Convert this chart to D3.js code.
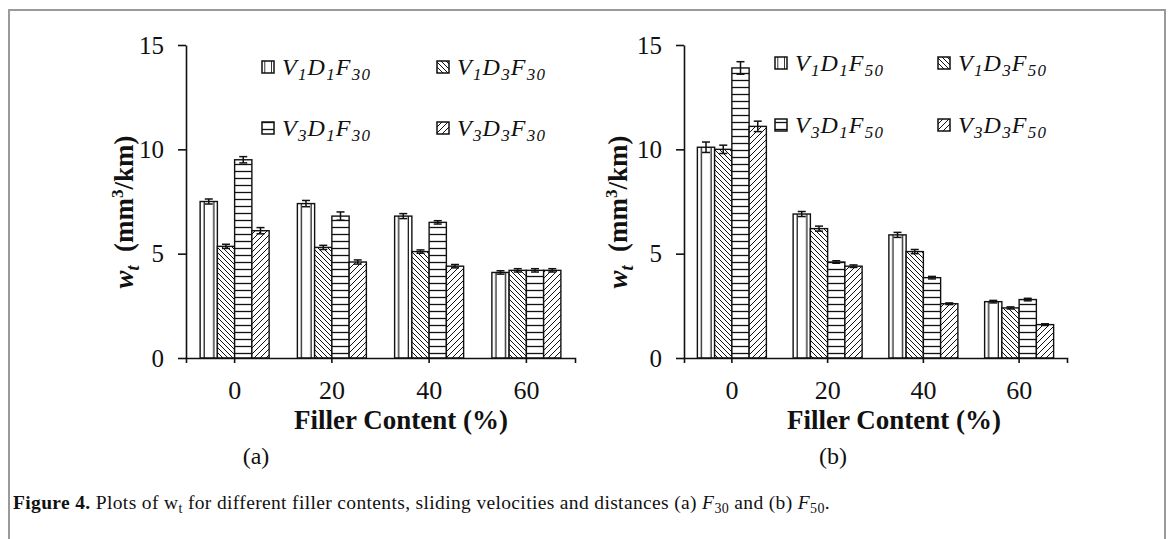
<!DOCTYPE html>
<html>
<head>
<meta charset="utf-8">
<script src="https://cdn.jsdelivr.net/npm/d3@7"></script>
<style>
  body { margin: 0; background: #fff; }
  text { font-family: "Liberation Serif", "Times New Roman", serif; fill: #111; }
</style>
</head>
<body>
<div id="chart"></div>
<script>
// categories
const fillerContent = ["0", "20", "40", "60"];
const yTicks = [0, 5, 10, 15];

// panel (a): F30
const a_V1D1 = [7.5, 7.4, 6.8, 4.1];
const a_V1D3 = [5.35, 5.3, 5.1, 4.2];
const a_V3D1 = [9.5, 6.8, 6.5, 4.2];
const a_V3D3 = [6.1, 4.6, 4.4, 4.2];
const a_err_V1D1 = [0.12, 0.15, 0.12, 0.08];
const a_err_V1D3 = [0.1, 0.1, 0.08, 0.08];
const a_err_V3D1 = [0.15, 0.2, 0.08, 0.08];
const a_err_V3D3 = [0.15, 0.1, 0.08, 0.08];

// panel (b): F50
const b_V1D1 = [10.1, 6.9, 5.9, 2.7];
const b_V1D3 = [10.0, 6.2, 5.1, 2.4];
const b_V3D1 = [13.9, 4.6, 3.85, 2.8];
const b_V3D3 = [11.1, 4.4, 2.6, 1.6];
const b_err_V1D1 = [0.25, 0.12, 0.12, 0.06];
const b_err_V1D3 = [0.2, 0.12, 0.1, 0.05];
const b_err_V3D1 = [0.3, 0.06, 0.06, 0.06];
const b_err_V3D3 = [0.25, 0.06, 0.04, 0.04];

// legend labels: [V, D] subscripts
const seriesKeys = ["V1D1", "V1D3", "V3D1", "V3D3"];
const seriesSubs = [["1", "1"], ["1", "3"], ["3", "1"], ["3", "3"]];
const patternIds = ["pv", "pdd", "phz", "pdu"];

const W = 1173, H = 539;
const svg = d3.select("#chart").append("svg")
  .attr("width", W).attr("height", H);

// frame
svg.append("rect")
  .attr("x", 9).attr("y", 10).attr("width", 1156).attr("height", 540)
  .attr("fill", "none").attr("stroke", "#9a9a9a").attr("stroke-width", 2);

// fill patterns
const defs = svg.append("defs");
const pv = defs.append("pattern").attr("id", "pv")
  .attr("patternUnits", "objectBoundingBox").attr("patternContentUnits", "objectBoundingBox")
  .attr("width", 1).attr("height", 1);
pv.append("rect").attr("width", 1).attr("height", 1).attr("fill", "#fff");
pv.append("rect").attr("x", 0.2).attr("width", 0.07).attr("height", 1).attr("fill", "#111");
pv.append("rect").attr("x", 0.76).attr("width", 0.07).attr("height", 1).attr("fill", "#111");

const phz = defs.append("pattern").attr("id", "phz")
  .attr("patternUnits", "userSpaceOnUse").attr("width", 8).attr("height", 7);
phz.append("rect").attr("width", 8).attr("height", 7).attr("fill", "#fff");
phz.append("line").attr("x1", 0).attr("x2", 8).attr("y1", 3.5).attr("y2", 3.5)
  .attr("stroke", "#111").attr("stroke-width", 1.3);

const pdd = defs.append("pattern").attr("id", "pdd")
  .attr("patternUnits", "userSpaceOnUse").attr("width", 5).attr("height", 5);
pdd.append("rect").attr("width", 5).attr("height", 5).attr("fill", "#fff");
pdd.append("path").attr("d", "M0,0L5,5M-1,4L1,6M4,-1L6,1")
  .attr("stroke", "#111").attr("stroke-width", 1);

const pdu = defs.append("pattern").attr("id", "pdu")
  .attr("patternUnits", "userSpaceOnUse").attr("width", 6).attr("height", 6);
pdu.append("rect").attr("width", 6).attr("height", 6).attr("fill", "#fff");
pdu.append("path").attr("d", "M0,6L6,0M-1,1L1,-1M5,7L7,5")
  .attr("stroke", "#111").attr("stroke-width", 1);

function drawPanel(p) {
  const g = svg.append("g");

  const x = d3.scaleBand().domain(fillerContent).range(p.xRange);
  const xInner = d3.scaleBand().domain(seriesKeys).range([-34.5, 34.5]);
  const y = d3.scaleLinear().domain([0, 15]).range([358, 45]);

  // bars
  seriesKeys.forEach((s, i) => {
    const vals = p.values[i], errs = p.errors[i];
    const rows = fillerContent.map((c, j) => ({ c: c, v: vals[j], e: errs[j] }));
    g.append("g").selectAll("rect").data(rows).enter().append("rect")
      .attr("x", d => x(d.c) + x.bandwidth() / 2 + xInner(s))
      .attr("y", d => y(d.v))
      .attr("width", xInner.bandwidth())
      .attr("height", d => y(0) - y(d.v))
      .attr("fill", "url(#" + patternIds[i] + ")")
      .attr("stroke", "#111").attr("stroke-width", 1.4);

    const eb = g.append("g").selectAll("g").data(rows).enter().append("g")
      .attr("transform", d => `translate(${x(d.c) + x.bandwidth() / 2 + xInner(s) + xInner.bandwidth() / 2},0)`);
    eb.append("line").attr("y1", d => y(d.v - d.e)).attr("y2", d => y(d.v + d.e))
      .attr("stroke", "#111").attr("stroke-width", 1.5);
    eb.append("line").attr("x1", -4).attr("x2", 4)
      .attr("y1", d => y(d.v + d.e)).attr("y2", d => y(d.v + d.e))
      .attr("stroke", "#111").attr("stroke-width", 1.5);
    eb.append("line").attr("x1", -4).attr("x2", 4)
      .attr("y1", d => y(d.v - d.e)).attr("y2", d => y(d.v - d.e))
      .attr("stroke", "#111").attr("stroke-width", 1.5);
  });

  // axes
  const ya = g.append("g").attr("transform", `translate(${p.xRange[0]},0)`)
    .call(d3.axisLeft(y).tickValues(yTicks).tickSize(8).tickSizeOuter(0).tickPadding(14));
  ya.selectAll("text").style("font-size", "25px").attr("font-family", "Liberation Serif");
  ya.selectAll("line, path").attr("stroke", "#111").attr("stroke-width", 1.6);

  const xa = g.append("g").attr("transform", "translate(0,358)")
    .call(d3.axisBottom(x).tickSize(5).tickSizeOuter(5).tickPadding(18));
  xa.selectAll("text").style("font-size", "26px").attr("font-family", "Liberation Serif");
  xa.selectAll("line, path").attr("stroke", "#111").attr("stroke-width", 1.6);

  // x axis title
  g.append("text").attr("x", p.titleX).attr("y", 429)
    .attr("text-anchor", "middle").style("font-size", "27px").style("font-weight", "bold")
    .text("Filler Content (%)");
  g.append("text").attr("x", p.tagX).attr("y", 464)
    .attr("text-anchor", "middle").style("font-size", "24px")
    .text(p.tag);

  // y axis title
  const yt = g.append("text")
    .attr("transform", `translate(${p.yTitleX},212) rotate(-90)`)
    .attr("text-anchor", "middle").style("font-size", "27px").style("font-weight", "bold");
  yt.append("tspan").style("font-style", "italic").text("w");
  yt.append("tspan").style("font-style", "italic").style("font-size", "18px").attr("dy", 6).text("t");
  yt.append("tspan").attr("dy", -6).text("\u00a0\u00a0(mm");
  yt.append("tspan").style("font-size", "17px").attr("dy", -10).text("3");
  yt.append("tspan").attr("dy", 10).text("/km)");

  // legend
  seriesKeys.forEach((s, i) => {
    const col = i % 2, row = Math.floor(i / 2);
    const lx = p.legendX[col], ly = p.legendY[row];
    g.append("rect").attr("x", lx).attr("y", ly - 6).attr("width", 12).attr("height", 12)
      .attr("fill", "url(#" + patternIds[i] + ")").attr("stroke", "#111").attr("stroke-width", 1.5);
    const t = g.append("text").attr("x", lx + 20).attr("y", ly + 8)
      .style("font-size", "24px").style("font-style", "italic").style("letter-spacing", "1.2px");
    t.append("tspan").text("V");
    t.append("tspan").attr("dy", 5).style("font-size", "17px").text(seriesSubs[i][0]);
    t.append("tspan").attr("dy", -5).text("D");
    t.append("tspan").attr("dy", 5).style("font-size", "17px").text(seriesSubs[i][1]);
    t.append("tspan").attr("dy", -5).text("F");
    t.append("tspan").attr("dy", 5).style("font-size", "17px").text(p.fSub);
  });
}

drawPanel({
  xRange: [186, 575],
  values: [a_V1D1, a_V1D3, a_V3D1, a_V3D3],
  errors: [a_err_V1D1, a_err_V1D3, a_err_V3D1, a_err_V3D3],
  titleX: 401, tagX: 256, tag: "(a)", yTitleX: 133,
  legendX: [262, 437], legendY: [67, 128], fSub: "30"
});

drawPanel({
  xRange: [684, 1067],
  values: [b_V1D1, b_V1D3, b_V3D1, b_V3D3],
  errors: [b_err_V1D1, b_err_V1D3, b_err_V3D1, b_err_V3D3],
  titleX: 894, tagX: 833, tag: "(b)", yTitleX: 627,
  legendX: [775, 938], legendY: [63, 125], fSub: "50"
});

// caption
const cap = svg.append("text").attr("x", 13).attr("y", 509).style("font-size", "19.5px");
cap.append("tspan").style("font-weight", "bold").text("Figure 4.");
cap.append("tspan").text(" Plots of w");
cap.append("tspan").attr("dy", 4).style("font-size", "14px").text("t");
cap.append("tspan").attr("dy", -4).text(" for different filler contents, sliding velocities and distances (a) ");
cap.append("tspan").style("font-style", "italic").text("F");
cap.append("tspan").attr("dy", 4).style("font-size", "14px").text("30");
cap.append("tspan").attr("dy", -4).text(" and (b) ");
cap.append("tspan").style("font-style", "italic").text("F");
cap.append("tspan").attr("dy", 4).style("font-size", "14px").text("50");
cap.append("tspan").attr("dy", -4).text(".");
// stretch the caption to the width it has in the figure
const capLen = cap.node().getComputedTextLength();
const nChars = cap.text().length;
cap.style("letter-spacing", Math.max(0, (817 - capLen) / nChars) + "px");
</script>
</body>
</html>
